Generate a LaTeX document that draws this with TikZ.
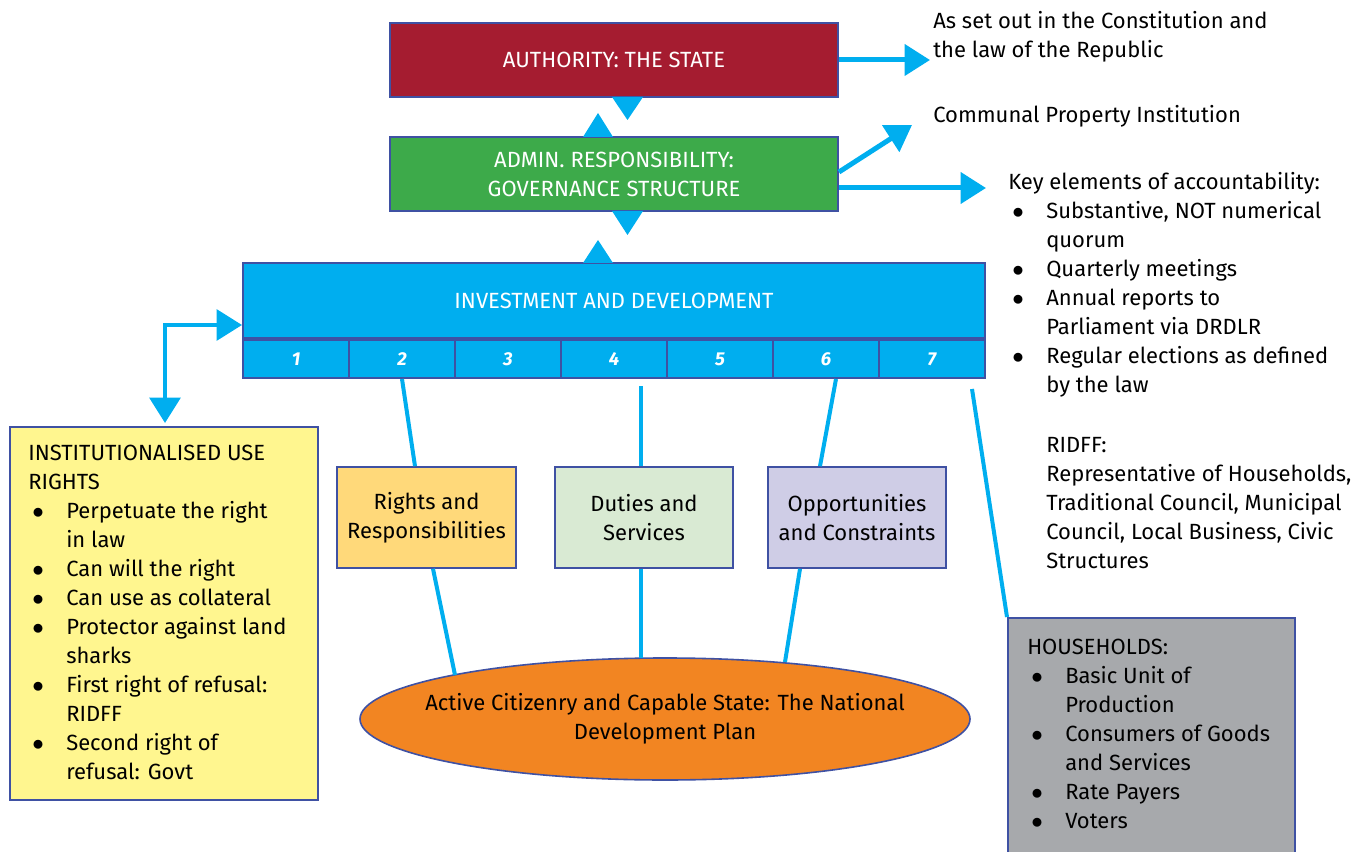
\documentclass[tikz,border=0pt]{standalone}
\usepackage{fontspec}
\setmainfont{Fira Sans}
\usetikzlibrary{arrows.meta,shapes.geometric,calc}
\definecolor{sky}{HTML}{00AEEF}
\definecolor{edge}{HTML}{3F51A3}
\definecolor{statered}{HTML}{A51C30}
\definecolor{admingreen}{HTML}{3DAA4A}
\definecolor{rightsfill}{HTML}{FFD97A}
\definecolor{dutiesfill}{HTML}{D9EAD3}
\definecolor{oppfill}{HTML}{CFCDE6}
\definecolor{ndporange}{HTML}{F28522}
\definecolor{usefill}{HTML}{FFF68F}
\definecolor{housegrey}{HTML}{A7A9AC}
\newcommand{\bt}{\hspace*{3pt}$\bullet$}
\begin{document}
\begin{tikzpicture}[x=0.75pt,y=-0.75pt,
  txt/.style={font=\fontsize{16.5}{21.75}\selectfont},
  bigbox/.style={draw=edge,line width=1.5pt,inner sep=0pt,text=white,align=center,
    font=\fontsize{16.5}{21.75}\selectfont,minimum width=336pt,minimum height=55.5pt},
  cell/.style={draw=edge,line width=1.5pt,fill=sky,inner sep=0pt,minimum width=79.5pt,
    minimum height=28.5pt,text=white,font=\fontsize{14}{15}\selectfont\bfseries\itshape},
  midbox/.style={draw=edge,line width=1.2pt,inner sep=0pt,align=center,
    font=\fontsize{16.5}{21.75}\selectfont,minimum width=133.5pt,minimum height=75.75pt},
  link/.style={draw=sky,line width=3pt},
  bigarrow/.style={draw=sky,line width=3.75pt,-{Triangle[length=19pt,width=23pt]}},
  tri/.style={fill=sky},
  block/.style={txt,anchor=base west,inner sep=0pt}
]
\useasboundingbox (0,0) rectangle (1360,852);
\clip (0,0) rectangle (1360,852);

% main boxes
\node[bigbox,fill=statered] (auth) at (614,60) {AUTHORITY: THE STATE};
\node[bigbox,fill=admingreen] (admin) at (614,174) {ADMIN. RESPONSIBILITY:\\GOVERNANCE STRUCTURE};
\node[bigbox,fill=sky,minimum width=556.5pt,minimum height=56.25pt] (invest) at (614,300.5) {INVESTMENT AND DEVELOPMENT};

% number cells
\foreach \i/\x in {1/296,2/402,3/508,4/614,5/720,6/826,7/932}
  \node[cell] (c\i) at (\x,359) {\i};

% triangles between boxes
\fill[tri] (612,97) -- (643,97) -- (627.5,120) -- cycle;
\fill[tri] (583,137) -- (613,137) -- (598,113) -- cycle;
\fill[tri] (612,211) -- (643,211) -- (627.5,235) -- cycle;
\fill[tri] (583,263) -- (613,263) -- (598,240) -- cycle;

% middle boxes
\node[midbox,fill=rightsfill,minimum width=134.25pt] (rights) at (426.5,517.5) {Rights and\\Responsibilities};
\node[midbox,fill=dutiesfill] (duties) at (644,517.5) {Duties and\\Services};
\node[midbox,fill=oppfill] (opp) at (857,517.5) {Opportunities\\and Constraints};

% ellipse
\node[ellipse,draw=edge,line width=1.2pt,fill=ndporange,inner sep=0pt,minimum width=457.5pt,
  minimum height=91.5pt] (ndp) at (665,719) {};
\node[txt,align=center,inner sep=0pt] (ndpTxt) at (ndp.center)
  {Active Citizenry and Capable State: The National\\Development Plan};

% side boxes
\node[draw=edge,line width=1.5pt,fill=usefill,minimum width=231pt,minimum height=279.75pt,inner sep=0pt] (use) at (164,613.5) {};
\node[draw=edge,line width=1.5pt,fill=housegrey,minimum width=215.25pt,minimum height=196.5pt,inner sep=0pt] (house) at (1151.5,749) {};

% connectors
\draw[link] (c2.south) -- ($(rights.north)+(-11.5,0)$);
\draw[link] ($(c4.south)+(27,7)$) -- ($(duties.north)+(-3,0)$);
\draw[link] ($(c6.south)+(10,0)$) -- ($(opp.north)+(-37,0)$);
\draw[link] ($(c7.south)+(40,10)$) -- (house.north west);
\draw[link] ($(rights.south)+(6.5,0)$) -- ($(ndp.center)+(-210,-44)$);
\draw[link] ($(duties.south)+(-3,0)$) -- ($(ndp.center)+(-24,-61)$);
\draw[link] ($(opp.south)+(-57,0)$) -- ($(ndp.center)+(120,-57)$);

% arrows
\coordinate (constTip) at (930,60);
\coordinate (cpiTip) at (912,125);
\coordinate (keyTip) at (986,188);
\draw[bigarrow] (auth.east) -- (constTip);
\draw[bigarrow] ($(admin.east)+(0,-2)$) -- (cpiTip);
\draw[bigarrow] ($(admin.east)+(0,14)$) -- (keyTip);
\coordinate (elbow) at (165,325);
\coordinate (useTip) at (165,423);
\draw[draw=sky,line width=3pt,{Triangle[length=19pt,width=23pt]}-{Triangle[length=19pt,width=23pt]}]
  ($(invest.west)+(0,24.5)$) -- (elbow) -- (useTip);

% texts
\node[block] (constTxt) at (933,29) {\begin{tabular}[t]{@{}l@{}}As set out in the Constitution and\\the law of the Republic\end{tabular}};
\node[block] (cpiTxt) at (933,123) {Communal Property Institution};
\node[block] (keyTxt) at (1008,190) {\begin{tabular}[t]{@{}p{28.5pt}@{}l@{}}
\multicolumn{2}{@{}l@{}}{Key elements of accountability:}\\
\bt & Substantive, NOT numerical\\
 & quorum\\
\bt & Quarterly meetings\\
\bt & Annual reports to\\
 & Parliament via DRDLR\\
\bt & Regular elections as defined\\
 & by the law\end{tabular}};
\node[block] (ridffTxt) at (1046,452) {\begin{tabular}[t]{@{}l@{}}RIDFF:\\Representative of Households,\\Traditional Council, Municipal\\Council, Local Business, Civic\\Structures\end{tabular}};
\node[block] (useTxt) at (28,460) {\begin{tabular}[t]{@{}p{28.5pt}@{}l@{}}
\multicolumn{2}{@{}l@{}}{INSTITUTIONALISED USE}\\
\multicolumn{2}{@{}l@{}}{RIGHTS}\\
\bt & Perpetuate the right\\
 & in law\\
\bt & Can will the right\\
\bt & Can use as collateral\\
\bt & Protector against land\\
 & sharks\\
\bt & First right of refusal:\\
 & RIDFF\\
\bt & Second right of\\
 & refusal: Govt\end{tabular}};
\node[block] (houseTxt) at (1027,654) {\begin{tabular}[t]{@{}p{28.5pt}@{}l@{}}
\multicolumn{2}{@{}l@{}}{HOUSEHOLDS:}\\
\bt & Basic Unit of\\
 & Production\\
\bt & Consumers of Goods\\
 & and Services\\
\bt & Rate Payers\\
\bt & Voters\end{tabular}};
\end{tikzpicture}
\end{document}
